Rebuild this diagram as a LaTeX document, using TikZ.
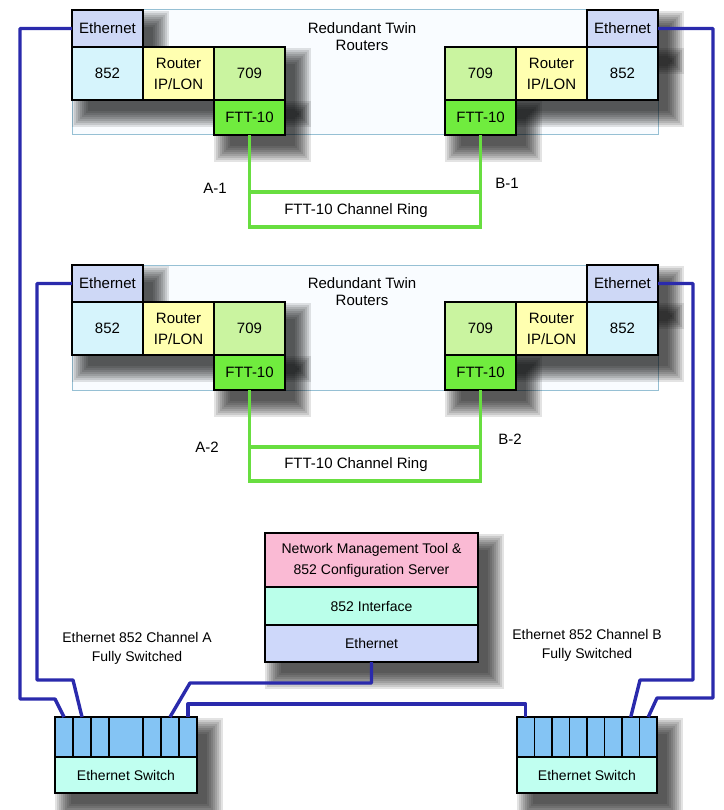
\documentclass[tikz,border=0pt]{standalone}
\usepackage{fontspec}
\setmainfont{Liberation Sans}
\usetikzlibrary{positioning, calc, backgrounds}

\definecolor{ethhead}{RGB}{206,216,246}
\definecolor{cyanlt}{RGB}{214,244,252}
\definecolor{yellowlt}{RGB}{255,255,176}
\definecolor{greenlt}{RGB}{202,244,160}
\definecolor{greenft}{RGB}{112,236,62}
\definecolor{framelin}{RGB}{150,192,212}
\definecolor{framebg}{RGB}{249,252,255}
\definecolor{ringcol}{RGB}{104,222,64}
\definecolor{cablecol}{RGB}{42,42,172}
\definecolor{portcol}{RGB}{132,196,244}
\definecolor{swlabel}{RGB}{192,255,240}
\definecolor{nmtpink}{RGB}{250,186,212}
\definecolor{nmtaqua}{RGB}{186,255,234}
\definecolor{nmtblue}{RGB}{206,216,250}

\pgfdeclarelayer{shade}
\pgfsetlayers{background,shade,main}

% soft drop shadow from corner #1 to corner #2
\newcommand{\boxshadow}[2]{%
  \foreach \r in {13,11,...,-3}
    \fill[black, opacity=0.11] ($(#1)+(13-\r,14-\r)$) rectangle ($(#2)+(13+\r,14+\r)$);%
}

\begin{document}
\begin{tikzpicture}[x=1pt, y=-1pt,
    font=\fontsize{15}{18}\selectfont,
    cell/.style={rectangle, draw=black, line width=1.3pt, minimum width=71pt, minimum height=53pt, inner sep=1pt, outer sep=0pt, align=center},
    ethbox/.style={cell, fill=ethhead, minimum height=37pt},
    box852/.style={cell, fill=cyanlt},
    routerbox/.style={cell, fill=yellowlt, font=\fontsize{15}{21}\selectfont},
    box709/.style={cell, fill=greenlt},
    fttbox/.style={cell, fill=greenft, minimum height=35pt},
    routergrp/.style={rectangle, draw=framelin, fill=framebg, line width=1pt, minimum width=586pt, minimum height=125pt, outer sep=0pt, anchor=north west},
    ring/.style={draw=ringcol, line width=3.6pt},
    cable/.style={draw=cablecol, line width=3.4pt, line join=round},
    swport/.style={rectangle, draw=black, line width=1.3pt, fill=portcol, minimum width=#1, minimum height=40pt, inner sep=0pt, outer sep=0pt},
    swport/.default=18pt,
    swname/.style={rectangle, draw=black, line width=1.3pt, fill=swlabel, minimum height=36pt, inner sep=0pt, outer sep=0pt, font=\fontsize{14}{16}\selectfont},
    nmt/.style={rectangle, draw=black, line width=1.3pt, minimum width=213pt, inner sep=1pt, outer sep=0pt, align=center, font=\fontsize{14}{21}\selectfont},
    note/.style={align=center, font=\fontsize{14}{19}\selectfont}
  ]
  \useasboundingbox (0,0) rectangle (723,810);

  % Router group frames
  \begin{scope}[on background layer]
    \node[routergrp] (grpa) at (72,10) {};
    \node[routergrp] (grpb) at (72,265) {};
  \end{scope}

  % Twin routers, pair 1
  \node[box852, anchor=north west] (l852a) at (72,47) {852};
  \node[routerbox, right=0pt of l852a] (lrtra) {Router\\IP/LON};
  \node[box709, right=0pt of lrtra] (l709a) {709};
  \node[fttbox, below=0pt of l709a] (lftta) {FTT-10};
  \node[ethbox, above=0pt of l852a] (letha) {Ethernet};

  \node[box852, anchor=north east] (r852a) at (658,47) {852};
  \node[routerbox, left=0pt of r852a] (rrtra) {Router\\IP/LON};
  \node[box709, left=0pt of rrtra] (r709a) {709};
  \node[fttbox, below=0pt of r709a] (rftta) {FTT-10};
  \node[ethbox, above=0pt of r852a] (retha) {Ethernet};

  \node[align=center, font=\fontsize{15}{17}\selectfont] (twina) at (362,37) {Redundant Twin\\Routers};

  % Twin routers, pair 2
  \node[box852, anchor=north west] (l852b) at (72,302) {852};
  \node[routerbox, right=0pt of l852b] (lrtrb) {Router\\IP/LON};
  \node[box709, right=0pt of lrtrb] (l709b) {709};
  \node[fttbox, below=0pt of l709b] (lfttb) {FTT-10};
  \node[ethbox, above=0pt of l852b] (lethb) {Ethernet};

  \node[box852, anchor=north east] (r852b) at (658,302) {852};
  \node[routerbox, left=0pt of r852b] (rrtrb) {Router\\IP/LON};
  \node[box709, left=0pt of rrtrb] (r709b) {709};
  \node[fttbox, below=0pt of r709b] (rfttb) {FTT-10};
  \node[ethbox, above=0pt of r852b] (rethb) {Ethernet};

  \node[align=center, font=\fontsize{15}{17}\selectfont] (twinb) at (362,292) {Redundant Twin\\Routers};

  % FTT-10 rings
  \coordinate (ringtopa) at (0,192);
  \coordinate (ringbota) at (0,227);
  \coordinate (ringtopb) at (0,447);
  \coordinate (ringbotb) at (0,481);
  \draw[ring] (lftta.south) -- (lftta.south |- ringbota) -| (rftta.south);
  \draw[ring] (lftta.south |- ringtopa) -- (rftta.south |- ringtopa);
  \draw[ring] (lfttb.south) -- (lfttb.south |- ringbotb) -| (rfttb.south);
  \draw[ring] (lfttb.south |- ringtopb) -- (rfttb.south |- ringtopb);

  \node (ringa) at (356,211) {FTT-10 Channel Ring};
  \node (ringb) at (356,465) {FTT-10 Channel Ring};
  \node (taa) at (215,188) {A-1};
  \node (tba) at (507,183) {B-1};
  \node (tab) at (207,447) {A-2};
  \node (tbb) at (510,439) {B-2};

  % Management station
  \node[nmt, fill=nmtpink, minimum height=54pt, anchor=north west] (nmttool) at (265,533) {Network Management Tool \&\\852 Configuration Server};
  \node[nmt, fill=nmtaqua, minimum height=38pt, below=0pt of nmttool] (nmtif) {852 Interface};
  \node[nmt, fill=nmtblue, minimum height=37pt, below=0pt of nmtif] (nmteth) {Ethernet};

  % Switch A
  \node[swport, anchor=north west] (pa1) at (55,717) {};
  \node[swport, right=0pt of pa1] (pa2) {};
  \node[swport, right=0pt of pa2] (pa3) {};
  \node[swport=34pt, right=0pt of pa3] (pa4) {};
  \node[swport, right=0pt of pa4] (pa5) {};
  \node[swport, right=0pt of pa5] (pa6) {};
  \node[swport, right=0pt of pa6] (pa7) {};
  \node[swname, minimum width=142pt, anchor=north west] (swa) at (pa1.south west) {Ethernet Switch};

  % Switch B
  \node[swport=17.5pt, anchor=north west] (pb1) at (517,717) {};
  \node[swport=17.5pt, right=0pt of pb1] (pb2) {};
  \node[swport=17.5pt, right=0pt of pb2] (pb3) {};
  \node[swport=17.5pt, right=0pt of pb3] (pb4) {};
  \node[swport=17.5pt, right=0pt of pb4] (pb5) {};
  \node[swport=17.5pt, right=0pt of pb5] (pb6) {};
  \node[swport=17.5pt, right=0pt of pb6] (pb7) {};
  \node[swport=17.5pt, right=0pt of pb7] (pb8) {};
  \node[swname, minimum width=140pt, anchor=north west] (swb) at (pb1.south west) {Ethernet Switch};

  \node[note] (chana) at (137,648) {Ethernet 852 Channel A\\Fully Switched};
  \node[note] (chanb) at (587,645) {Ethernet 852 Channel B\\Fully Switched};

  % Ethernet cabling
  \draw[cable] (letha.west) -| (20,699) -- (55,699) -- (pa1.north);
  \draw[cable] (lethb.west) -| (37,680) -- (73,680) -- (pa2.north);
  \draw[cable] (retha.east) -| (713,698) -- (657,698) -- (pb8.north);
  \draw[cable] (rethb.east) -| (693,680) -- (640,680) -- (pb7.north);
  \draw[cable] (nmteth.south) |- (190,683) -- (pa6.north);
  \draw[cable] (pa7.north) -- ++(0,-13) -| (pb1.north);

  % Shadows
  \begin{pgfonlayer}{shade}
    \boxshadow{letha.north west}{letha.south east}
    \boxshadow{l852a.north west}{l709a.south east}
    \boxshadow{lftta.north west}{lftta.south east}
    \boxshadow{retha.north west}{retha.south east}
    \boxshadow{r709a.north west}{r852a.south east}
    \boxshadow{rftta.north west}{rftta.south east}
    \boxshadow{lethb.north west}{lethb.south east}
    \boxshadow{l852b.north west}{l709b.south east}
    \boxshadow{lfttb.north west}{lfttb.south east}
    \boxshadow{rethb.north west}{rethb.south east}
    \boxshadow{r709b.north west}{r852b.south east}
    \boxshadow{rfttb.north west}{rfttb.south east}
    \boxshadow{nmttool.north west}{nmteth.south east}
    \boxshadow{pa1.north west}{swa.south east}
    \boxshadow{pb1.north west}{swb.south east}
  \end{pgfonlayer}
\end{tikzpicture}
\end{document}
